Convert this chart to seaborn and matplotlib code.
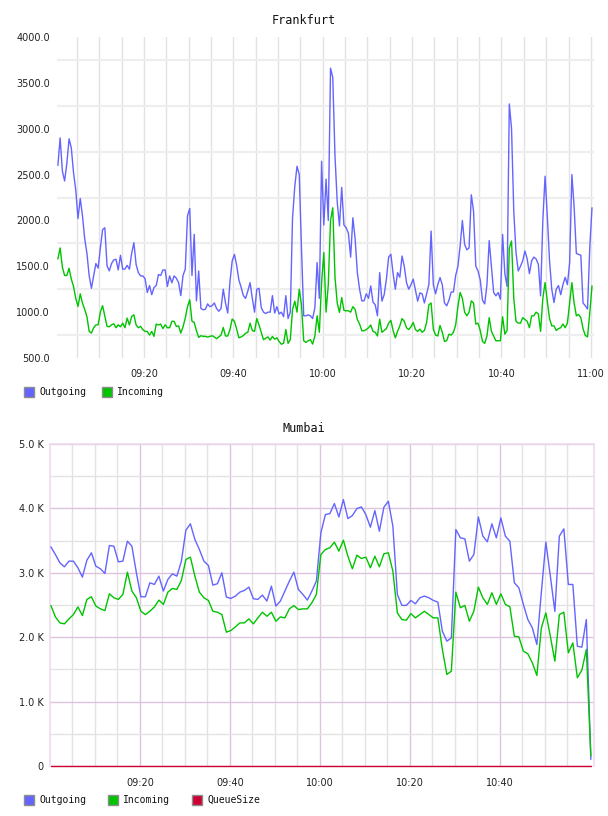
"""Traffic per datacenter, 09:00-11:00 (Frankfurt / Mumbai)."""
import numpy as np
import pandas as pd
import matplotlib
matplotlib.use("Agg")
import matplotlib.pyplot as plt
from matplotlib.patches import Rectangle
from matplotlib.ticker import FixedLocator, FuncFormatter
import seaborn as sns

# Frankfurt: one sample every 30 s, first one at 09:00:45 (minutes after 09:00)
FRA_START = 0.75
FRA_STEP = 0.5
fra_outgoing = [
    2600, 2900, 2540, 2430, 2620, 2890, 2790, 2520, 2330, 2020,
    2240, 2050, 1800, 1640, 1395, 1260, 1395, 1530, 1480, 1700,
    1900, 1920, 1504, 1450, 1530, 1570, 1576, 1460, 1620, 1468,
    1470, 1510, 1468, 1640, 1757, 1520, 1431, 1395, 1395, 1365,
    1214, 1290, 1190, 1268, 1290, 1410, 1400, 1460, 1460, 1280,
    1395, 1320, 1395, 1370, 1322, 1180, 1400, 1468, 2050, 2130,
    1400, 1848, 1123, 1449, 1040, 1026, 1030, 1090, 1060, 1070,
    1100, 1040, 1010, 1040, 1250, 1100, 990, 1330, 1560, 1630,
    1510, 1350, 1270, 1180, 1150, 1230, 1322, 1150, 1000, 1250,
    1260, 1050, 1000, 985, 1000, 1000, 1180, 990, 1060, 980,
    1000, 950, 1180, 930, 1000, 2030, 2370, 2590, 2500, 1700,
    960, 960, 970, 960, 930, 1050, 1540, 1150, 2645, 1950,
    2450, 2000, 3660, 3560, 2700, 2200, 1940, 2360, 1950, 1920,
    1860, 1600, 2029, 1800, 1431, 1250, 1123, 1123, 1200, 1150,
    1286, 1110, 1080, 960, 1431, 1120, 1190, 1359, 1600, 1631,
    1420, 1250, 1431, 1380, 1612, 1500, 1322, 1250, 1300, 1360,
    1240, 1120, 1210, 1200, 1100, 1200, 1300, 1884, 1300, 1200,
    1300, 1377, 1300, 1100, 1069, 1130, 1220, 1220, 1400, 1500,
    1721, 2000, 1740, 1680, 1700, 2280, 2100, 1500, 1449, 1350,
    1130, 1090, 1300, 1780, 1500, 1214, 1178, 1214, 1141, 1848,
    1420, 1280, 3270, 3000, 2100, 1650, 1449, 1500, 1560, 1667,
    1580, 1420, 1560, 1600, 1580, 1520, 1178, 2000, 2482, 2050,
    1560, 1250, 1105, 1250, 1290, 1190, 1300, 1380, 1300, 1540,
    2500, 2150, 1640, 1630, 1620, 1100, 1070, 1033, 1700, 2138,
]
fra_incoming = [
    1580, 1700, 1490, 1400, 1400, 1478, 1360, 1280, 1150, 1062,
    1200, 1098, 1030, 950, 790, 772, 830, 860, 862, 1000,
    1070, 960, 845, 840, 862, 873, 830, 862, 840, 880,
    830, 935, 860, 953, 971, 860, 830, 845, 810, 790,
    790, 750, 790, 736, 870, 860, 870, 820, 862, 830,
    830, 900, 900, 845, 850, 772, 840, 935, 1060, 1135,
    900, 888, 797, 725, 743, 736, 736, 728, 736, 743,
    730, 710, 730, 750, 833, 740, 740, 810, 925, 900,
    815, 720, 730, 745, 770, 780, 880, 800, 790, 930,
    860, 780, 700, 715, 730, 695, 735, 705, 720, 680,
    650, 660, 810, 660, 700, 1030, 1120, 1000, 1250, 1080,
    688, 670, 688, 700, 652, 740, 960, 780, 1322, 1649,
    1000, 1300, 2000, 2138, 1380, 1100, 997, 1159, 1020, 1015,
    1015, 1000, 1060, 1030, 920, 870, 797, 797, 810, 830,
    860, 790, 780, 740, 924, 780, 800, 820, 880, 910,
    800, 720, 790, 850, 930, 900, 830, 810, 840, 888,
    810, 790, 815, 780, 800, 888, 1080, 1100, 815, 750,
    740, 855, 780, 680, 690, 760, 750, 780, 860, 1060,
    1214, 1150, 1000, 960, 1000, 1123, 1100, 870, 880, 800,
    680, 660, 740, 940, 790, 740, 688, 688, 688, 950,
    760, 800, 1700, 1776, 1150, 900, 880, 880, 940, 920,
    900, 830, 960, 960, 1000, 980, 790, 1150, 1322, 1120,
    930, 850, 850, 800, 820, 830, 870, 830, 880, 1100,
    1322, 1100, 960, 975, 940, 820, 746, 730, 990, 1286,
]

# Mumbai: one sample per minute, first one at 09:00:12
MUM_START = 0.2
MUM_STEP = 1.0
mum_outgoing = [
    3403, 3284, 3155, 3093, 3181, 3181, 3078, 2933, 3196, 3310,
    3103, 3062, 2990, 3424, 3413, 3170, 3181, 3491, 3413, 3000,
    2628, 2628, 2845, 2819, 2948, 2716, 2897, 2984, 2948, 3181,
    3662, 3760, 3517, 3362, 3181, 3114, 2809, 2830, 3000, 2623,
    2602, 2638, 2700, 2726, 2778, 2597, 2587, 2654, 2561, 2793,
    2483, 2561, 2716, 2871, 3010, 2742, 2664, 2576, 2716, 2871,
    3620, 3904, 3920, 4075, 3868, 4137, 3842, 3889, 3997, 4023,
    3904, 3708, 3966, 3646, 4018, 4111, 3724, 2664, 2494, 2494,
    2571, 2519, 2612, 2638, 2612, 2571, 2545, 2093, 1938, 1990,
    3672, 3543, 3527, 3181, 3284, 3868, 3569, 3481, 3760, 3543,
    3853, 3569, 3491, 2845, 2767, 2509, 2274, 2145, 1886, 2700,
    3476, 2948, 2400, 3569, 3682, 2819, 2819, 1860, 1845, 2274,
    103,
]
mum_incoming = [
    2491, 2315, 2222, 2207, 2284, 2351, 2470, 2336, 2587, 2628,
    2483, 2440, 2413, 2674, 2612, 2587, 2664, 3010, 2716, 2612,
    2403, 2351, 2403, 2470, 2576, 2509, 2700, 2757, 2742, 2881,
    3207, 3243, 2948, 2700, 2612, 2571, 2403, 2388, 2351, 2078,
    2103, 2160, 2222, 2222, 2284, 2207, 2300, 2388, 2325, 2388,
    2248, 2315, 2300, 2440, 2491, 2429, 2440, 2440, 2535, 2664,
    3284, 3362, 3388, 3476, 3336, 3506, 3258, 3062, 3274, 3222,
    3243, 3078, 3258, 3093, 3295, 3310, 3026, 2377, 2274, 2264,
    2367, 2300, 2351, 2403, 2351, 2300, 2300, 1809, 1421, 1473,
    2700, 2457, 2494, 2248, 2403, 2778, 2612, 2509, 2690, 2509,
    2674, 2509, 2473, 2015, 2005, 1783, 1742, 1602, 1406, 2145,
    2377, 2015, 1628, 2351, 2388, 1757, 1912, 1370, 1488, 1809,
    155,
]
mum_queue = [0] * len(mum_outgoing)  # flat at zero the whole window

SERIES_COLORS = {"Outgoing": "#6464ff", "Incoming": "#00c400", "QueueSize": "#cc0033"}

W, H = 608, 816


def to_frame(start, step, series):
    """Long-form table: minute, value, series."""
    frames = []
    for name, values in series.items():
        minutes = start + step * np.arange(len(values))
        frames.append(pd.DataFrame({"minute": minutes, "value": values, "series": name}))
    return pd.concat(frames, ignore_index=True)


def minute_label(m, pos):
    h, mm = divmod(int(round(m)), 60)
    return f"{9 + h:02d}:{mm:02d}"


def ax_rect(left, top, right, bottom):
    """Axes box from pixel edges."""
    return [left / W, 1 - bottom / H, (right - left) / W, (bottom - top) / H]


def draw_legend(fig, names, xs, y):
    for name, x in zip(names, xs):
        fig.add_artist(Rectangle((x / W, (H - y - 5) / H), 10 / W, 10 / H,
                                 transform=fig.transFigure, facecolor=SERIES_COLORS[name],
                                 edgecolor="#8c8c8c", linewidth=1.0))
        fig.text((x + 15) / W, (H - y) / H, name, fontsize=7, family="DejaVu Sans Mono",
                 va="center", ha="left", color="#111111")


sns.set_style("white")
plt.rcParams["font.family"] = ["DejaVu Sans"]

fig = plt.figure(figsize=(W / 100, H / 100), dpi=100)
fig.patch.set_facecolor("white")

# ---------------- Frankfurt ----------------
fra_df = to_frame(FRA_START, FRA_STEP, {"Outgoing": fra_outgoing, "Incoming": fra_incoming})
ax1 = fig.add_axes(ax_rect(57, 37, 594, 358))
sns.lineplot(data=fra_df, x="minute", y="value", hue="series", palette=SERIES_COLORS,
             legend=False, ax=ax1, linewidth=1.0, estimator=None)
ax1.set_xlim(0.55, 120.7)
ax1.set_ylim(500, 4000)
ax1.yaxis.set_major_locator(FixedLocator(np.arange(500, 4001, 500)))
ax1.yaxis.set_minor_locator(FixedLocator(np.arange(750, 3751, 500)))
ax1.yaxis.set_major_formatter(FuncFormatter(lambda v, p: f"{v:.1f}"))
ax1.xaxis.set_major_locator(FixedLocator(np.arange(20, 121, 20)))
ax1.xaxis.set_minor_locator(FixedLocator(np.arange(5, 121, 5)))
ax1.xaxis.set_major_formatter(FuncFormatter(minute_label))
ax1.grid(False)
ax1.grid(axis="y", which="minor", color="#eeeeee", linewidth=1.6)
ax1.grid(axis="x", which="both", color="#e2e2e2", linewidth=1.0)
ax1.set_axisbelow(True)
for s in ax1.spines.values():
    s.set_visible(False)
ax1.tick_params(which="both", length=0, labelsize=7, colors="#222222")
ax1.tick_params(axis="y", pad=5)
ax1.tick_params(axis="x", pad=8)
ax1.set_xlabel("")
ax1.set_ylabel("")
fig.text(0.5, 1 - 20 / H, "Frankfurt", ha="center", va="center", fontsize=8.5,
         family="DejaVu Sans Mono", color="#111111")
draw_legend(fig, ["Outgoing", "Incoming"], [24, 102], 392)

# ---------------- Mumbai ----------------
mum_df = to_frame(MUM_START, MUM_STEP, {"Outgoing": mum_outgoing, "Incoming": mum_incoming,
                                        "QueueSize": mum_queue})
ax2 = fig.add_axes(ax_rect(50, 444, 594, 766))
sns.lineplot(data=mum_df, x="minute", y="value", hue="series", palette=SERIES_COLORS,
             legend=False, ax=ax2, linewidth=1.0, estimator=None)
for line in ax2.lines:
    line.set_clip_on(False)
    line.set_zorder(3)
ax2.set_xlim(0, 120.9)
ax2.set_ylim(0, 5000)
ax2.yaxis.set_major_locator(FixedLocator(np.arange(0, 5001, 1000)))
ax2.yaxis.set_minor_locator(FixedLocator(np.arange(500, 5000, 1000)))
ax2.yaxis.set_major_formatter(FuncFormatter(lambda v, p: "0" if v == 0 else f"{v / 1000:.1f} K"))
ax2.xaxis.set_major_locator(FixedLocator(np.arange(20, 101, 20)))
ax2.xaxis.set_minor_locator(FixedLocator([m for m in range(5, 120, 5) if m % 20]))
ax2.xaxis.set_major_formatter(FuncFormatter(minute_label))
ax2.grid(False)
ax2.grid(which="minor", color="#e3e3e3", linewidth=1.0)
ax2.grid(which="major", color="#dcc4dc", linewidth=1.0)
ax2.set_axisbelow(True)
for s in ax2.spines.values():
    s.set_color("#ecdcec")
    s.set_linewidth(1.2)
ax2.spines["bottom"].set_visible(False)
ax2.tick_params(which="both", length=0, labelsize=7, colors="#222222")
ax2.tick_params(axis="y", pad=4.5)
ax2.tick_params(axis="x", pad=8.5)
ax2.set_xlabel("")
ax2.set_ylabel("")
fig.text(0.5, 1 - 429 / H, "Mumbai", ha="center", va="center", fontsize=8.5,
         family="DejaVu Sans Mono", color="#111111")
draw_legend(fig, ["Outgoing", "Incoming", "QueueSize"], [24, 108, 192], 800)

fig.savefig("out.png", dpi=100, facecolor="white")
